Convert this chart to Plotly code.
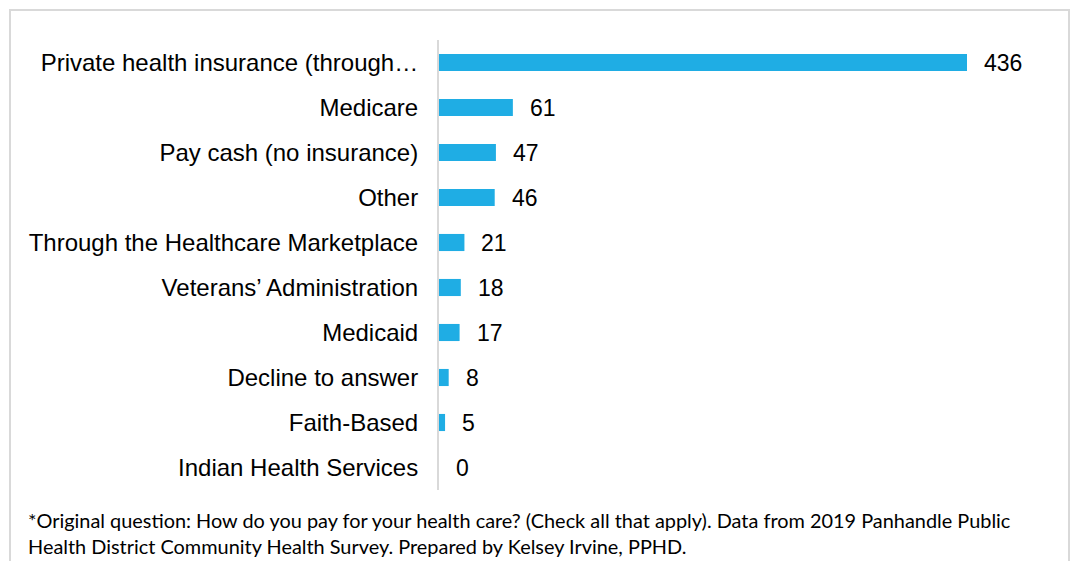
import plotly.graph_objects as go

# Payment methods and response counts
categories = [
    "Private health insurance (through…",
    "Medicare",
    "Pay cash (no insurance)",
    "Other",
    "Through the Healthcare Marketplace",
    "Veterans’ Administration",
    "Medicaid",
    "Decline to answer",
    "Faith-Based",
    "Indian Health Services",
]
counts = [436, 61, 47, 46, 21, 18, 17, 8, 5, 0]

footnote_lines = [
    "*Original question: How do you pay for your health care? (Check all that apply). Data from 2019 Panhandle Public",
    "Health District Community Health Survey. Prepared by Kelsey Irvine, PPHD.",
]

W, H = 1071, 561
ML, MR, MT, MB = 439, 51, 40, 71
PW, PH = W - ML - MR, H - MT - MB


def px_x(px):
    return (px - ML) / PW


def px_y(py):
    return 1 - (py - MT) / PH


BAR = "#1FADE4"

fig = go.Figure(
    go.Bar(
        x=counts,
        y=categories,
        orientation="h",
        marker=dict(color=BAR, line=dict(width=0)),
        width=0.38,
        hoverinfo="x+y",
    )
)

# value labels right of each bar
for cat, val in zip(categories, counts):
    fig.add_annotation(
        x=val, y=cat, xref="x", yref="y",
        text=str(val), showarrow=False,
        xanchor="left", yanchor="middle", xshift=15,
        font=dict(family="Liberation Sans, Arial", size=23, color="#000000"),
    )

# footnote
for i, line in enumerate(footnote_lines):
    fig.add_annotation(
        x=px_x(26), y=px_y(520 + 26 * i), xref="paper", yref="paper",
        text=line, showarrow=False, xanchor="left", yanchor="middle",
        font=dict(family="Lato, Carlito, Calibri", size=19.9, color="#000000"),
    )

# outer frame
fig.add_shape(
    type="rect", xref="paper", yref="paper",
    x0=px_x(10), x1=px_x(1069), y0=px_y(600), y1=px_y(10),
    line=dict(color="#D9D9D9", width=2), fillcolor="rgba(0,0,0,0)",
    layer="below",
)

fig.update_layout(
    width=W, height=H,
    margin=dict(l=ML, r=MR, t=MT, b=MB, pad=0),
    paper_bgcolor="white", plot_bgcolor="white",
    showlegend=False,
    bargap=0.62,
    xaxis=dict(range=[0, PW / 1.211], visible=False, fixedrange=True),
    yaxis=dict(
        autorange="reversed",
        showline=True, linecolor="#D9D9D9", linewidth=2,
        showgrid=False, zeroline=False,
        ticks="", ticklabelstandoff=14,
        tickfont=dict(family="Liberation Sans, Arial", size=24, color="#000000"),
        fixedrange=True,
    ),
)

fig.write_html("out.html")
